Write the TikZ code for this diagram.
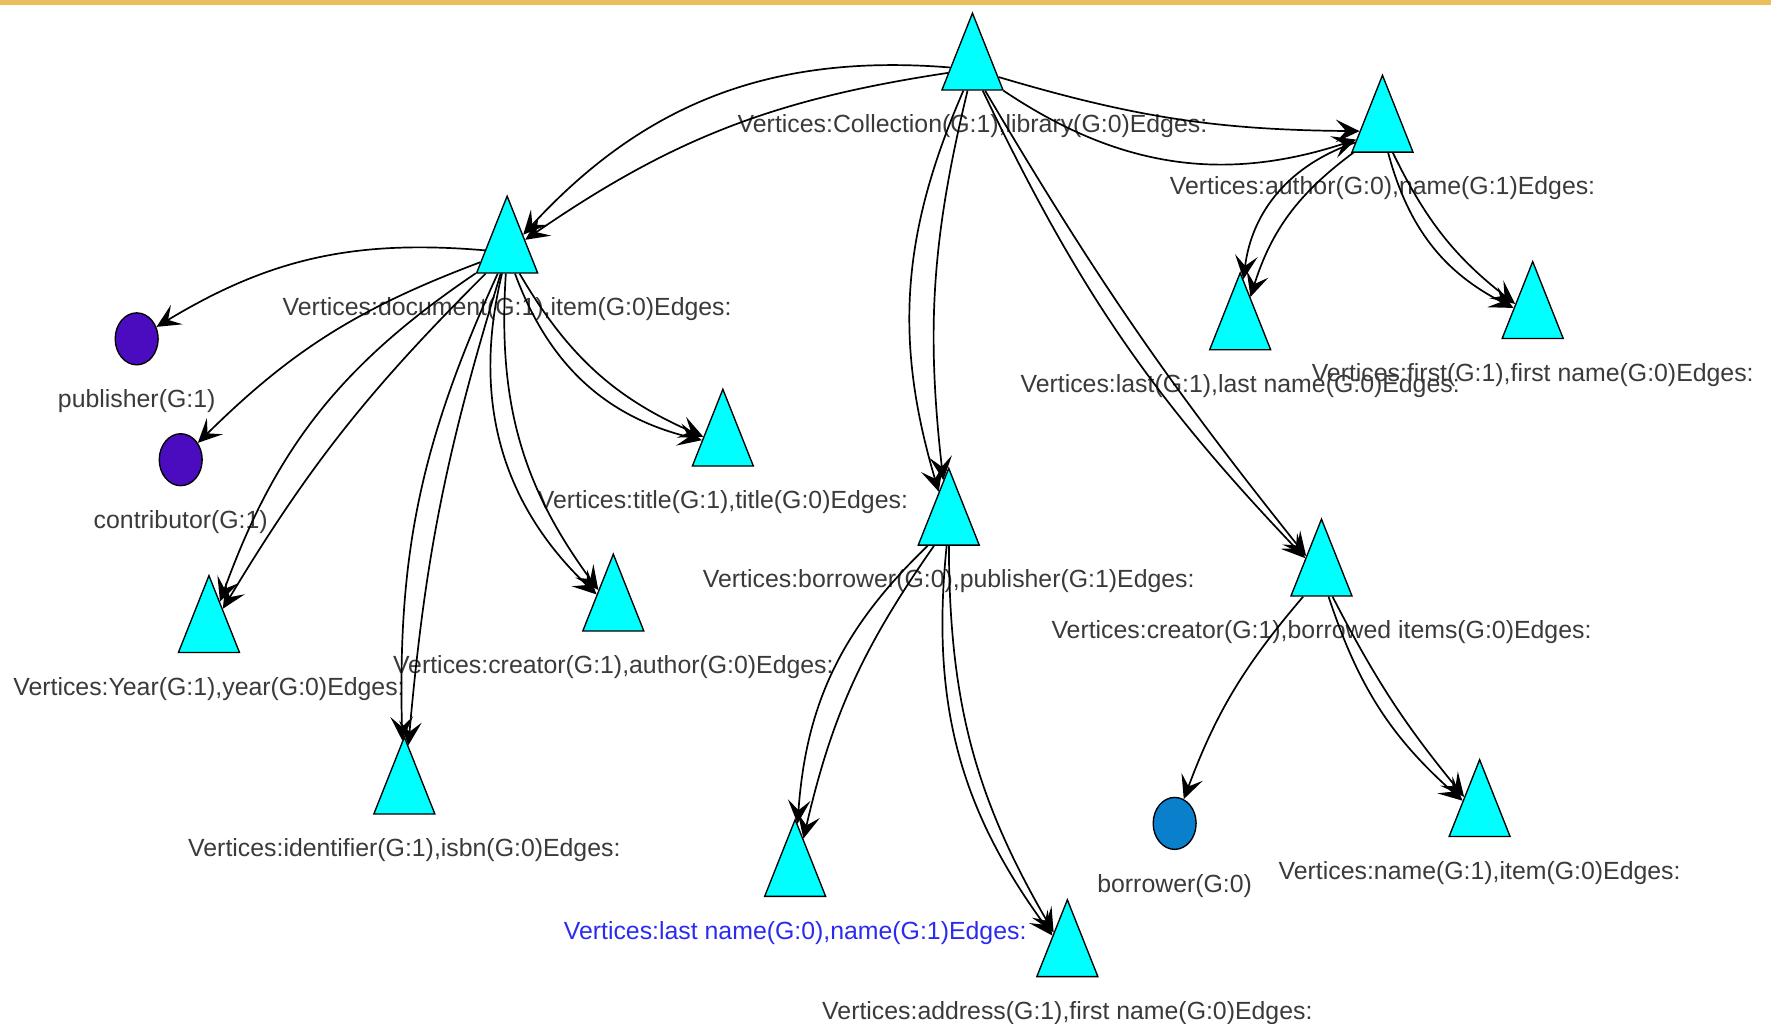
\documentclass[tikz,border=0pt]{standalone}
\usepackage{fontspec}
\setmainfont{Liberation Sans}
\usetikzlibrary{shapes.geometric, arrows.meta, positioning}

\definecolor{vcyan}{HTML}{00FFFF}
\definecolor{vpurple}{HTML}{4A0CBE}
\definecolor{vblue}{HTML}{0A80CC}
\definecolor{lblgray}{HTML}{3A3A3A}
\definecolor{lblblue}{HTML}{2B2BF0}
\definecolor{topbar}{HTML}{E9BE5C}

\begin{document}
\begin{tikzpicture}[
    x=0.5pt, y=-0.5pt,
    vtx/.style    = {isosceles triangle, isosceles triangle apex angle=43,
                     isosceles triangle stretches, shape border rotate=90,
                     minimum width=27pt, minimum height=34pt, inner sep=0pt,
                     draw=black, line width=0.6pt, fill=vcyan, anchor=apex},
    leaf/.style   = {ellipse, draw=black, line width=0.6pt,
                     minimum width=19pt, minimum height=23pt, inner sep=0pt},
    every label/.style = {font=\fontsize{11}{13}\selectfont, text=lblgray, inner sep=0pt},
    label distance=10.5pt,
    arrow/.style  = {-{Stealth[length=10.5pt, width=10pt, inset=4.5pt]}, line width=0.75pt}
]

\useasboundingbox (0,0) rectangle (1568,906);
\fill[topbar] (0,0) rectangle (1568,4);

%% -- Root --------------------------------------------------
\node[vtx] (v_coll) at (861,10)
      [label=below:{Vertices:Collection(G:1),library(G:0)Edges:}] {};

%% -- Left branch: document -----------------------------------
\node[vtx] (v_doc)   at (449,172) [label=below:{Vertices:document(G:1),item(G:0)Edges:}] {};
\node[leaf, fill=vpurple] (e_pub)     at (121,300) [label=below:{publisher(G:1)}] {};
\node[leaf, fill=vpurple] (e_contrib) at (160,407) [label=below:{contributor(G:1)}] {};
\node[vtx] (v_title) at (640,343) [label=below:{Vertices:title(G:1),title(G:0)Edges:}] {};
\node[vtx] (v_year)  at (185,508) [label=below:{Vertices:Year(G:1),year(G:0)Edges:}] {};
\node[vtx] (v_creat) at (543,489) [label=below:{Vertices:creator(G:1),author(G:0)Edges:}] {};
\node[vtx] (v_isbn)  at (358,651) [label=below:{Vertices:identifier(G:1),isbn(G:0)Edges:}] {};

%% -- Right branch: author ------------------------------------
\node[vtx] (v_author) at (1224,65)  [label=below:{Vertices:author(G:0),name(G:1)Edges:}] {};
\node[vtx] (v_last)   at (1098,240) [label=below:{Vertices:last(G:1),last name(G:0)Edges:}] {};
\node[vtx] (v_first)  at (1357,230) [label=below:{Vertices:first(G:1),first name(G:0)Edges:}] {};

%% -- Middle branch: borrower ---------------------------------
\node[vtx] (v_borr)  at (840,413) [label=below:{Vertices:borrower(G:0),publisher(G:1)Edges:}] {};
\node[vtx] (v_lname) at (704,724)
      [label={[text=lblblue]below:{Vertices:last name(G:0),name(G:1)Edges:}}] {};
\node[vtx] (v_addr)  at (945,795) [label=below:{Vertices:address(G:1),first name(G:0)Edges:}] {};

%% -- Right branch: borrowed items ----------------------------
\node[vtx] (v_bitems) at (1170,458) [label=below:{Vertices:creator(G:1),borrowed items(G:0)Edges:}] {};
\node[leaf, fill=vblue] (e_borr) at (1040,729) [label=below:{borrower(G:0)}] {};
\node[vtx] (v_item)   at (1310,671) [label=below:{Vertices:name(G:1),item(G:0)Edges:}] {};

%% -- Arrows: root ------------------------------------------
\draw[arrow] (v_coll) to[bend right=13] (v_doc);
\draw[arrow] (v_coll) to[bend right=26] (v_doc);
\draw[arrow] (v_coll) to[bend right=8]  (v_author);
\draw[arrow] (v_coll) to[bend right=26] (v_author);
\draw[arrow] (v_coll) to[bend right=10] (v_borr);
\draw[arrow] (v_coll) to[bend right=20] (v_borr);
\draw[arrow] (v_coll) to[bend right=4]  (v_bitems);
\draw[arrow] (v_coll) to[bend right=9]  (v_bitems);

%% -- Arrows: document --------------------------------------
\draw[arrow] (v_doc) to[bend right=18] (e_pub);
\draw[arrow] (v_doc) to[bend right=12] (e_contrib);
\draw[arrow] (v_doc) to[bend right=7]  (v_year);
\draw[arrow] (v_doc) to[bend right=18] (v_year);
\draw[arrow] (v_doc) to[bend right=6]  (v_isbn);
\draw[arrow] (v_doc) to[bend right=13] (v_isbn);
\draw[arrow] (v_doc) to[bend right=20] (v_creat);
\draw[arrow] (v_doc) to[bend right=30] (v_creat);
\draw[arrow] (v_doc) to[bend right=18] (v_title);
\draw[arrow] (v_doc) to[bend right=28] (v_title);

%% -- Arrows: author ----------------------------------------
\draw[arrow] (v_author) to[bend right=18] (v_last);
\draw[arrow] (v_author) to[bend right=32] (v_last);
\draw[arrow] (v_author) to[bend right=13] (v_first);
\draw[arrow] (v_author) to[bend right=24] (v_first);

%% -- Arrows: borrower --------------------------------------
\draw[arrow] (v_borr) to[bend right=11] (v_lname);
\draw[arrow] (v_borr) to[bend right=21] (v_lname);
\draw[arrow] (v_borr) to[bend right=15] (v_addr);
\draw[arrow] (v_borr) to[bend right=21] (v_addr);

%% -- Arrows: borrowed items --------------------------------
\draw[arrow] (v_bitems) to[bend right=10] (e_borr);
\draw[arrow] (v_bitems) to[bend right=6]  (v_item);
\draw[arrow] (v_bitems) to[bend right=15] (v_item);

\end{tikzpicture}
\end{document}
